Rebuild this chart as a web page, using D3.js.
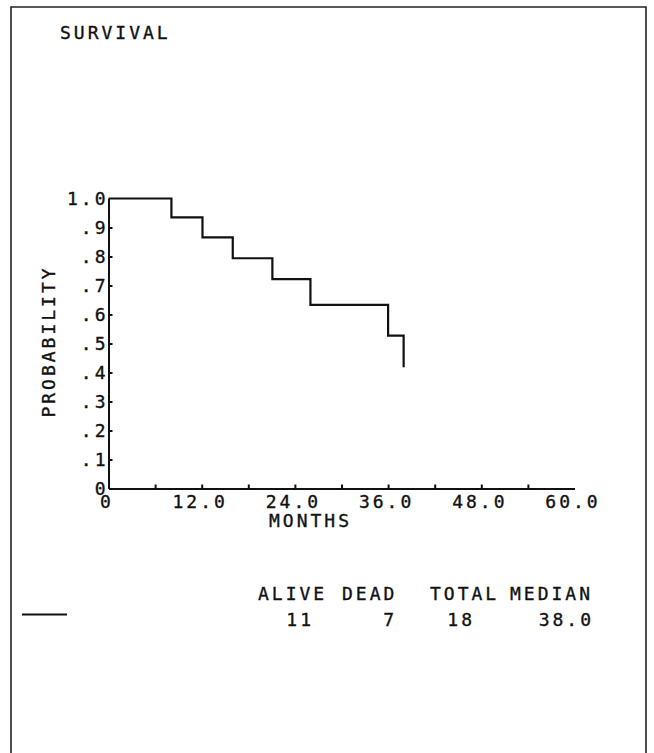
<!DOCTYPE html>
<html>
<head>
<meta charset="utf-8">
<script src="https://d3js.org/d3.v7.min.js"></script>
<style>
  body{
    margin:0;
    background-color:#ffffff;
  }
  svg text{
    font-family:"DejaVu Sans Mono", monospace;
    font-size:18px;
    letter-spacing:3px;
    fill:#111;
    stroke:#111;
    stroke-width:0.35px;
  }
  .axis path, .axis line{
    stroke:#111;
    stroke-width:2px;
  }
</style>
</head>
<body>
<div id="chart"></div>
<script>
  // Kaplan-Meier curve
  var months   = [0, 8.1, 12.1, 16.0, 21.1, 26.0, 36.0, 38.0]
  var survival = [1.0, 0.935, 0.866, 0.794, 0.722, 0.633, 0.527, 0.418]

  var xTicks = [0, 6, 12, 18, 24, 30, 36, 42, 48, 54, 60]
  var yTicks = [0, 0.1, 0.2, 0.3, 0.4, 0.5, 0.6, 0.7, 0.8, 0.9, 1.0]

  var legendHeads = ["ALIVE", "DEAD", "TOTAL", "MEDIAN"]
  var legendVals  = ["11", "7", "18", "38.0"]

  var width = 654
  var height = 753
  var ls = 3 // letter spacing, trailing gap on end-anchored text

  var svg = d3.select("#chart").append("svg")
      .attr("width", width)
      .attr("height", height)

  // frame, open at the bottom
  svg.append("path")
      .attr("d", "M11,753 V7 H646 V753")
      .attr("fill", "none")
      .attr("stroke", "#222")
      .attr("stroke-width", 1.6)

  var xscale = d3.scaleLinear().domain([0, 60]).range([108.5, 574.5])
  var yscale = d3.scaleLinear().domain([0, 1]).range([488.5, 198.5])

  // x axis: ticks every 6 months pointing up, labels every 12
  var xAxis = d3.axisBottom(xscale)
      .tickValues(xTicks)
      .tickSizeInner(-4)
      .tickSizeOuter(0)
      .tickPadding(0)
      .tickFormat(function(d){
        if (d % 12 != 0) return ""
        return d == 0 ? "0" : d3.format(".1f")(d)
      })
  var gx = svg.append("g")
      .attr("class", "axis")
      .attr("transform", "translate(0," + yscale(0) + ")")
      .call(xAxis)
  gx.selectAll(".tick line").filter(function(d){ return d == 0 || d == 60 }).remove()
  gx.selectAll("text")
      .attr("y", 19.5)
      .attr("dy", 0)
      .attr("dx", -2)
  gx.attr("font-family", null).attr("font-size", null)

  // y axis: ticks every .1 pointing right
  var yAxis = d3.axisLeft(yscale)
      .tickValues(yTicks)
      .tickSizeInner(-4)
      .tickSizeOuter(0)
      .tickPadding(0)
      .tickFormat(function(d){
        if (d == 0) return "0"
        if (d == 1) return "1.0"
        return d3.format(".1f")(d).replace(/^0/, "")
      })
  var gy = svg.append("g")
      .attr("class", "axis")
      .attr("transform", "translate(" + xscale(0) + ",0)")
      .call(yAxis)
  gy.selectAll(".tick line").filter(function(d){ return d == 0 || d == 1 }).remove()
  gy.selectAll("text")
      .attr("x", -3 + ls)
      .attr("dy", "0.36em")
  gy.attr("font-family", null).attr("font-size", null)

  // survival step curve
  var pts = months.map(function(m, i){ return [m, survival[i]] })
  var line = d3.line()
      .x(function(d){ return xscale(d[0]) })
      .y(function(d){ return yscale(d[1]) })
      .curve(d3.curveStepAfter)
  svg.append("path")
      .datum(pts)
      .attr("d", line)
      .attr("fill", "none")
      .attr("stroke", "#111")
      .attr("stroke-width", 2.2)

  // titles
  svg.append("text").attr("x", 60).attr("y", 39).text("SURVIVAL")
  svg.append("text").attr("x", 269).attr("y", 527).text("MONTHS")
  svg.append("text")
      .attr("transform", "translate(55,343) rotate(-90)")
      .attr("text-anchor", "middle")
      .attr("dx", ls / 2)
      .text("PROBABILITY")

  // legend
  var headX = [258, 342, 430, 510]
  var valEnd = [311, 394, 472, 591]
  svg.append("line")
      .attr("x1", 22).attr("x2", 67)
      .attr("y1", 614.5).attr("y2", 614.5)
      .attr("stroke", "#111")
      .attr("stroke-width", 1.8)
  svg.selectAll(".head")
      .data(legendHeads)
      .enter()
      .append("text")
      .attr("class", "head")
      .attr("x", function(d, i){ return headX[i] })
      .attr("y", 599.5)
      .text(function(d){ return d })
  svg.selectAll(".val")
      .data(legendVals)
      .enter()
      .append("text")
      .attr("class", "val")
      .attr("text-anchor", "end")
      .attr("x", function(d, i){ return valEnd[i] + ls })
      .attr("y", 625.5)
      .text(function(d){ return d })
</script>
</body>
</html>
